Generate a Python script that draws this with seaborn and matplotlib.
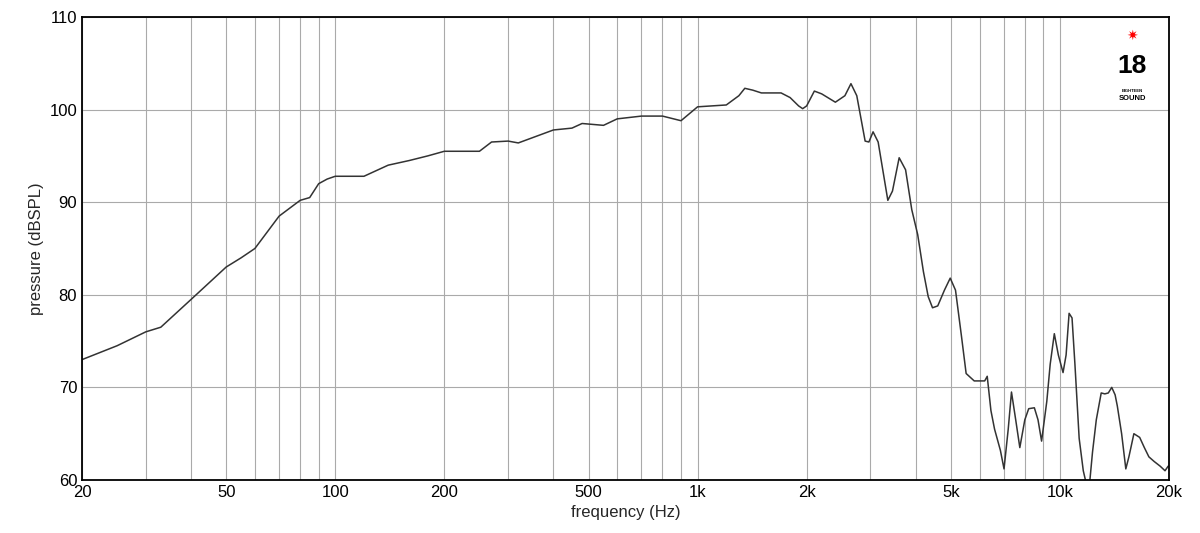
import numpy as np
import pandas as pd
import matplotlib.pyplot as plt
import matplotlib.ticker as mticker
import seaborn as sns

freq_hz = [20, 25, 30, 33, 40, 50, 55, 60, 70, 80, 85, 90, 95, 100, 120, 140, 160, 180, 200, 250,
           270, 300, 320, 400, 450, 480, 550, 600, 700, 800, 900, 1000, 1200, 1300, 1350, 1420,
           1500, 1700, 1800, 1900, 1950, 2000, 2100, 2200, 2400, 2550, 2650, 2750, 2900, 2970,
           3050, 3150, 3350, 3450, 3600, 3750, 3900, 4050, 4200, 4330, 4450, 4600, 4800, 4980,
           5150, 5350, 5510, 5800, 6200, 6300, 6450, 6600, 6850, 7010, 7200, 7350, 7550, 7750,
           8000, 8200, 8500, 8700, 8900, 9200, 9400, 9650, 9900, 10200, 10400, 10600, 10800,
           11000, 11300, 11600, 12000, 12300, 12600, 13000, 13300, 13600, 13900, 14200, 14400,
           14800, 15200, 15500, 15700, 16000, 16600, 17100, 17600, 18200, 18900, 19500, 19900]
spl_db = [73, 74.5, 76, 76.5, 79.5, 83, 84, 85, 88.5, 90.2, 90.5, 92, 92.5, 92.8, 92.8, 94, 94.5,
          95, 95.5, 95.5, 96.5, 96.6, 96.4, 97.8, 98, 98.5, 98.3, 99, 99.3, 99.3, 98.8, 100.3,
          100.5, 101.5, 102.3, 102.1, 101.8, 101.8, 101.3, 100.4, 100.1, 100.4, 102.0, 101.7,
          100.8, 101.5, 102.8, 101.5, 96.6, 96.5, 97.6, 96.5, 90.2, 91.2, 94.8, 93.5, 89.2, 86.5,
          82.5, 79.8, 78.6, 78.8, 80.5, 81.8, 80.5, 75.5, 71.5, 70.7, 70.7, 71.2, 67.5, 65.5, 63.2,
          61.2, 65.5, 69.5, 66.5, 63.5, 66.5, 67.7, 67.8, 66.5, 64.2, 68.5, 72.5, 75.8, 73.5, 71.6,
          73.5, 78, 77.5, 72.5, 64.5, 61, 58.5, 63, 66.5, 69.4, 69.3, 69.4, 70, 69.2, 68, 65, 61.2,
          62.5, 63.5, 65, 64.6, 63.5, 62.5, 62, 61.5, 61, 61.5]

tick_vals = [20, 50, 100, 200, 500, 1000, 2000, 5000, 10000, 20000]
tick_labels = ["20", "50", "100", "200", "500", "1k", "2k", "5k", "10k", "20k"]

sns.set_theme(style="white")
plt.rcParams['font.family'] = ['Liberation Sans', 'DejaVu Sans']

df = pd.DataFrame({"freq": freq_hz, "spl": spl_db})

fig = plt.figure(figsize=(12, 5.33), dpi=100)
ax = fig.add_axes([82 / 1200, 1 - 480 / 533, (1169 - 82) / 1200, (480 - 17) / 533])
sns.lineplot(data=df, x="freq", y="spl", ax=ax, color="#333333", linewidth=1.1)

ax.set_xscale("log")
ax.set_xlim(20, 20000)
ax.set_ylim(60, 110)
ax.xaxis.set_major_locator(mticker.FixedLocator(tick_vals))
ax.xaxis.set_major_formatter(mticker.FixedFormatter(tick_labels))
ax.xaxis.set_minor_locator(mticker.LogLocator(base=10, subs=np.arange(1, 10)))
ax.xaxis.set_minor_formatter(mticker.NullFormatter())
ax.set_yticks(range(60, 111, 10))
ax.grid(True, which="both", axis="x", color="#aaaaaa", linewidth=0.8)
ax.grid(True, which="major", axis="y", color="#aaaaaa", linewidth=0.8)
ax.tick_params(which="both", length=0, labelsize=12, colors="black")
for s in ax.spines.values():
    s.set_color("black")
    s.set_linewidth(1.3)

ax.set_xlabel("frequency (Hz)", fontsize=12)
ax.set_ylabel("pressure (dBSPL)", fontsize=12)

# logo
ax.text(0.966, 0.895, "18", transform=ax.transAxes, ha="center", va="center",
        fontsize=19, fontweight="bold", color="black")
ax.text(0.966, 0.84, "EIGHTEEN", transform=ax.transAxes, ha="center", va="center",
        fontsize=3, fontweight="bold", color="black")
ax.text(0.966, 0.825, "SOUND", transform=ax.transAxes, ha="center", va="center",
        fontsize=5.5, fontweight="bold", color="black")
ax.text(0.966, 0.96, "✷", transform=ax.transAxes, ha="center", va="center",
        fontsize=10, color="red", family="DejaVu Sans")

fig.savefig("out.png", dpi=100)
